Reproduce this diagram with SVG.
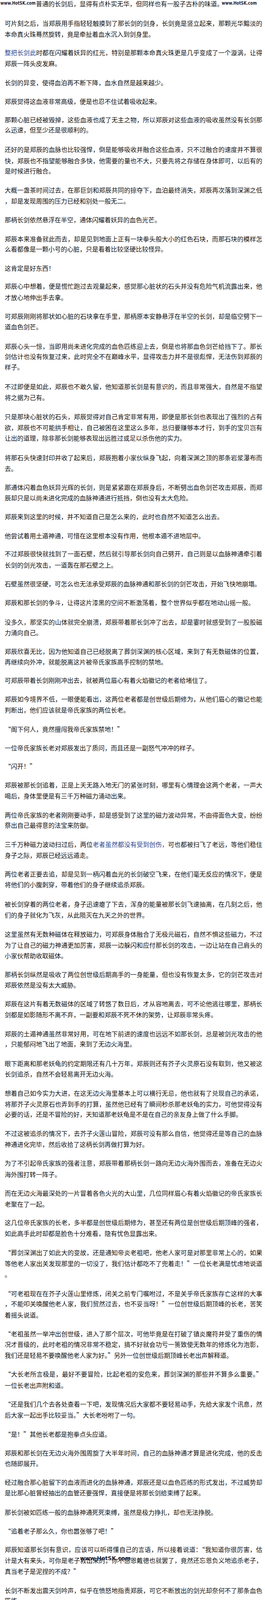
<svg xmlns="http://www.w3.org/2000/svg" width="679" height="4198" viewBox="0 0 679 4198">
<style>
text{font-family:"Noto Sans CJK SC","Noto Sans CJK JP",sans-serif;font-size:16px;fill:#111;font-feature-settings:"fwid" 1;}
.wm{font-family:"DejaVu Sans","Liberation Sans",sans-serif;font-weight:bold;font-size:12px;fill:#1f2433;font-feature-settings:normal;}
.b{fill:#2a438c;}
</style>
<rect x="0" y="0" width="679" height="4198" fill="#ffffff"/>
<g id="body">
<text x="92" y="16">普通的长剑后，显得有点朴实无华，但同样也有一股子古朴的味道。</text>
<text x="12" y="66" textLength="660" lengthAdjust="spacing">可片刻之后，当郑辰用手指轻轻触摸到了那长剑的剑身，长剑竟是竖立起来，那颗光华黯淡的</text>
<text x="12" y="94">本命真火珠蓦然旋转，竟是牵扯着血水沉入到剑身里。</text>
<text x="12" y="141" textLength="660" lengthAdjust="spacing"><tspan class="b">整把长剑此</tspan>时都在闪耀着妖异的红光，特别是那颗本命真火珠更是几乎变成了一个漩涡，让得</text>
<text x="12" y="169">郑辰一阵头皮发麻。</text>
<text x="12" y="218">长剑的异变，使得血泊再不断下降，血水自然是越来越少。</text>
<text x="12" y="266">郑辰觉得这血液非常高级，便是也忍不住试着吸收起来。</text>
<text x="12" y="313" textLength="660" lengthAdjust="spacing">那颗心脏已经被毁掉，这些血液也成了无主之物，所以郑辰对这些血液的吸收虽然没有长剑那</text>
<text x="12" y="339">么迅速，但至少还是很顺利的。</text>
<text x="12" y="389" textLength="660" lengthAdjust="spacing">还好的是郑辰的血脉也比较强悍，倒是能够吸收并融合这些血液，只不过融合的速度并不算很</text>
<text x="12" y="418" textLength="660" lengthAdjust="spacing">快，郑辰也不指望能够融合多快，他需要的量也不大，只要先将之存储在身体即可，以后有的</text>
<text x="12" y="444">是时候进行融合。</text>
<text x="12" y="493" textLength="660" lengthAdjust="spacing">大概一盏茶时间过去，在那巨剑和郑辰共同的掠夺下，血泊最终消失，郑辰再次落到深渊之低</text>
<text x="12" y="521">，却是发现周围的压力已经和别处一般无二。</text>
<text x="12" y="569">那柄长剑依然悬浮在半空，通体闪耀着妖异的血色光芒。</text>
<text x="12" y="618" textLength="660" lengthAdjust="spacing">郑辰本来准备就此而去，却是见到地面上正有一块拳头般大小的红色石块，而那石块的模样怎</text>
<text x="12" y="644">么看都像是一颗小号的心脏，只是看着比较坚硬比较怪异。</text>
<text x="12" y="693">这肯定是好东西！</text>
<text x="12" y="739" textLength="660" lengthAdjust="spacing">郑辰心中想着，便是慌忙跑过去观量起来，感觉那心脏状的石头并没有危险气机流露出来，他</text>
<text x="12" y="768">才放心地伸出手去拿。</text>
<text x="12" y="816" textLength="660" lengthAdjust="spacing">可郑辰刚刚将那状如心脏的石块拿在手里，那柄原本安静悬浮在半空的长剑，却是临空劈下一</text>
<text x="12" y="843">道血色剑芒。</text>
<text x="12" y="893" textLength="660" lengthAdjust="spacing">郑辰心头一惊，当即用尚未进化完成的血色匹练迎上去，倒是也将那血色剑芒给挡下了。那长</text>
<text x="12" y="919" textLength="660" lengthAdjust="spacing">剑估计也没有恢复过来，此时完全不在巅峰水平，显得攻击力并不是很彪悍，无法伤到郑辰的</text>
<text x="12" y="946">样子。</text>
<text x="12" y="996" textLength="660" lengthAdjust="spacing">不过即便是如此，郑辰也不敢久留，他知道那长剑是有意识的，而且非常强大，自然是不指望</text>
<text x="12" y="1024">将之据为己有。</text>
<text x="12" y="1073" textLength="660" lengthAdjust="spacing">只是那块心脏状的石头，郑辰觉得对自己肯定非常有用，即便是那长剑也表现出了强烈的占有</text>
<text x="12" y="1101" textLength="660" lengthAdjust="spacing">欲，郑辰也不可能拱手相让，自己被困在这里这么多年，总归要赚够本才行，到手的宝贝岂有</text>
<text x="12" y="1128">让出的道理，除非那长剑能够表现出远胜过或足以杀伤他的实力。</text>
<text x="12" y="1178" textLength="660" lengthAdjust="spacing">将那石头快速封印并收了起来后，郑辰抱着小家伙纵身飞起，向着深渊之顶的那条岩浆瀑布而</text>
<text x="12" y="1206">去。</text>
<text x="12" y="1254" textLength="660" lengthAdjust="spacing">那通体闪着血色妖异光辉的长剑，则是紧紧跟在郑辰身后，不断劈出血色剑芒攻击郑辰，而郑</text>
<text x="12" y="1281">辰却只是以尚未进化完成的血脉神通进行抵挡，倒也没有太大危险。</text>
<text x="12" y="1329">郑辰来到这里的时候，并不知道自己是怎么来的，此时也自然不知道怎么出去。</text>
<text x="12" y="1378">他尝试着用土遁神通，可惜在这里根本没有作用，他根本遁不进地层中。</text>
<text x="12" y="1424" textLength="660" lengthAdjust="spacing">不过郑辰很快就找到了一面石壁，然后就引导那长剑向自己劈开，自己则是以血脉神通牵引着</text>
<text x="12" y="1453">长剑的剑光攻击，一道轰在那石壁之上。</text>
<text x="12" y="1501">石壁虽然很坚硬，可怎么也无法承受郑辰的血脉神通和那长剑的剑芒攻击，开始飞快地崩塌。</text>
<text x="12" y="1549">郑辰和那长剑的争斗，让得这片漆黑的空间不断激荡着，整个世界似乎都在地动山摇一般。</text>
<text x="12" y="1599" textLength="660" lengthAdjust="spacing">没多久，那坚实的山体就完全崩溃，郑辰带着那长剑冲了出去，却是霎时就感受到了一股股磁</text>
<text x="12" y="1626">力涌向自己。</text>
<text x="12" y="1674" textLength="660" lengthAdjust="spacing">郑辰欣喜无比，因为他知道自己已经脱离了葬剑深渊的核心区域，来到了有无数磁体的位置，</text>
<text x="12" y="1701">再继续向外冲，就能脱离这片被帝氏家族高手控制的禁地。</text>
<text x="12" y="1748">可郑辰带着长剑刚刚冲出去，就被两位眉心有着火焰徽记的老者给堵住了。</text>
<text x="12" y="1796" textLength="660" lengthAdjust="spacing">郑辰如今境界不低，一眼便能看出，这两位老者都是创世级后期修为，从他们眉心的徽记也能</text>
<text x="12" y="1824">判断出，他们应该就是帝氏家族的两位长老。</text>
<text x="12" y="1873">“阁下何人，竟然擅闯我帝氏家族禁地！”</text>
<text x="12" y="1921">一位帝氏家族长老对郑辰发出了质问，而且还是一副怒气冲冲的样子。</text>
<text x="12" y="1968">“闪开！”</text>
<text x="12" y="2016" textLength="660" lengthAdjust="spacing">郑辰被那长剑追着，正是上天无路入地无门的紧张时刻，哪里有心情理会这两个老者，一声大</text>
<text x="12" y="2044">喝后，身体里便是有三千万种磁力涌动出来。</text>
<text x="12" y="2093" textLength="660" lengthAdjust="spacing">两位帝氏家族的老者刚刚要动手，却是感受到了这里的磁力波动异常，不由得面色大变，纷纷</text>
<text x="12" y="2119">祭出自己最得意的法宝来防御。</text>
<text x="12" y="2168" textLength="660" lengthAdjust="spacing">三千万种磁力波动扫过后，两位<tspan class="b">老者虽然都没有受到创伤，</tspan>可也都被扫飞了老远，等他们稳住</text>
<text x="12" y="2196">身子之际，郑辰已经远远遁走。</text>
<text x="12" y="2244" textLength="660" lengthAdjust="spacing">两位老者正要去追，却是见到一柄闪着血光的长剑破空飞来，在他们毫无反应的情况下，便是</text>
<text x="12" y="2271">将他们的小腹刺穿，带着他们的身子继续追杀郑辰。</text>
<text x="12" y="2321" textLength="660" lengthAdjust="spacing">被长剑穿着的两位老者，身子迅速瘪了下去，浑身的能量被那长剑飞速抽离，在几刻之后，他</text>
<text x="12" y="2349">们的身子就化为飞灰，从此陨灭在九天之外的世界。</text>
<text x="12" y="2398" textLength="660" lengthAdjust="spacing">这里虽然有无数种磁体在释放磁力，可郑辰身体融合了无极元磁石，自然不惧这些磁力，不过</text>
<text x="12" y="2426" textLength="660" lengthAdjust="spacing">为了让自己的磁力神通更加厉害，郑辰一边躲闪和应付那长剑的攻击，一边让站在自己肩头的</text>
<text x="12" y="2453">小家伙帮助收取磁体。</text>
<text x="12" y="2501" textLength="660" lengthAdjust="spacing">那柄长剑纵然是吸收了两位创世级后期高手的一身能量，但也没有恢复太多，它的剑芒攻击对</text>
<text x="12" y="2528">郑辰依然是没有太大威胁。</text>
<text x="12" y="2576" textLength="660" lengthAdjust="spacing">郑辰在这片有着无数磁体的区域了转悠了数日后，才从容地离去，可不论他逃往哪里，那柄长</text>
<text x="12" y="2604">剑都是如影随形不离不弃，一副要和郑辰不死不休的架势，让郑辰非常头疼。</text>
<text x="12" y="2653" textLength="660" lengthAdjust="spacing">郑辰的土遁神通虽然非常好用，可在地下前进的速度也远远不如那长剑，总是被剑光攻击的他</text>
<text x="12" y="2679">，只能郁闷地飞出了地面，来到了无边火海里。</text>
<text x="12" y="2729" textLength="660" lengthAdjust="spacing">眼下距离和那老妖龟的约定期限还有几十万年，郑辰则还有芥子火灵原石没有取到，他又被这</text>
<text x="12" y="2756">长剑追杀，自然不会轻易离开无边火海。</text>
<text x="12" y="2805" textLength="660" lengthAdjust="spacing">想着自己如今实力大进，在这无边火海里基本上可以横行无忌，他也就有了兑现自己的承诺，</text>
<text x="12" y="2833" textLength="660" lengthAdjust="spacing">将那芥子火灵原石也弄到手的打算，虽然他已经有了瞬间秒杀那老妖龟的实力，可他觉得没有</text>
<text x="12" y="2859">必要的话，还是不冒险的好，天知道那老妖龟是不是在自己的亲友身上做了什么手脚。</text>
<text x="12" y="2908" textLength="660" lengthAdjust="spacing">不过这被追杀的情况下，去芥子火莲山冒险，郑辰可没有那么自信，他觉得还是等自己的血脉</text>
<text x="12" y="2936">神通进化完毕，然后收拾了这柄长剑再做打算为好。</text>
<text x="12" y="2984" textLength="660" lengthAdjust="spacing">为了不引起帝氏家族的强者注意，郑辰带着那柄长剑一路向无边火海外围而去，准备在无边火</text>
<text x="12" y="3013">海外围打转一阵子。</text>
<text x="12" y="3061" textLength="660" lengthAdjust="spacing">而在无边火海最深处的一片冒着各色火光的大山里，几位同样眉心有着火焰徽记的帝氏家族长</text>
<text x="12" y="3089">老聚在了一起。</text>
<text x="12" y="3136" textLength="660" lengthAdjust="spacing">这几位帝氏家族的长老，多半都是创世级后期修为，甚至还有两位是创世级后期顶峰的强者，</text>
<text x="12" y="3164">如此高手此时却都是脸色十分难看，隐有忧色显露出来。</text>
<text x="12" y="3213" textLength="660" lengthAdjust="spacing">“葬剑深渊出了如此大的变故，还是通知帝炎老祖吧，他老人家可是对那里非常上心的，如果</text>
<text x="12" y="3241" textLength="660" lengthAdjust="spacing">等他老人家出关发现那里的一切没了，我们估计都吃不了兜着走！”一位长老满是忧虑地说道</text>
<text x="12" y="3269">。</text>
<text x="12" y="3318" textLength="660" lengthAdjust="spacing">“可老祖现在在芥子火莲山里修炼，闭关之前专门嘱咐过，不是关乎帝氏家族存亡这样的大事</text>
<text x="12" y="3344" textLength="660" lengthAdjust="spacing">，不能叩关唤醒他老人家，我们贸然过去，也不妥当呀！”一位创世级后期顶峰的长老，苦笑</text>
<text x="12" y="3373">着摇头说道。</text>
<text x="12" y="3421" textLength="660" lengthAdjust="spacing">“老祖虽然一举冲出创世级，进入了那个层次，可他毕竟是在打破了镇炎魔符并受了重伤的情</text>
<text x="12" y="3448" textLength="660" lengthAdjust="spacing">况才晋级的，此时老祖的情况非常不稳定，搞不好就会功亏一篑致使无数年的修炼化为泡影，</text>
<text x="12" y="3476">我们还是轻易不要唤醒他老人家为好。”另外一位创世级后期顶峰长老出声解释道。</text>
<text x="12" y="3524" textLength="660" lengthAdjust="spacing">“大长老所言极是，最好不要冒险，比起老祖的安危来，葬剑深渊的那些并不算多么重要。”</text>
<text x="12" y="3553">一位长老出声附和道。</text>
<text x="12" y="3601" textLength="660" lengthAdjust="spacing">“还是我们几个去各处查看一下吧，发现情况后大家都不要轻易动手，先给大家发个讯息，然</text>
<text x="12" y="3629">后大家一起出手比较妥当。”大长老吩咐了一句。</text>
<text x="12" y="3678">“是！”其他长老都是抱拳点头应道。</text>
<text x="12" y="3726" textLength="660" lengthAdjust="spacing">郑辰和那长剑在无边火海外围周旋了大半年时间，自己的血脉神通才算是进化完成，他的反击</text>
<text x="12" y="3753">也随即展开。</text>
<text x="12" y="3801" textLength="660" lengthAdjust="spacing">经过融合那心脏留下的血液而进化的血脉神通，郑辰还是以血色匹练的形式发出，不过威势却</text>
<text x="12" y="3828">是比那心脏曾经抽出的血管还要强悍，直接便是将那长剑给束缚了起来。</text>
<text x="12" y="3878">那长剑被如匹练一般的血脉神通死死束缚，虽然是极力挣扎，却也无法挣脱。</text>
<text x="12" y="3926">“追着老子那么久，你也嚣张够了吧！”</text>
<text x="12" y="3973" textLength="660" lengthAdjust="spacing">郑辰知道那长剑有意识，应该可以听得懂自己的言语，所以接着说道：“我知道你很厉害，估</text>
<text x="12" y="4001" textLength="660" lengthAdjust="spacing">计是大有来头，可你是老子救出来的，你不感恩戴德也就罢了，竟然还忘恩负义地追杀老子，</text>
<text x="12" y="4029">真当老子是泥捏的不成？”</text>
<text x="12" y="4078" textLength="660" lengthAdjust="spacing">长剑不断发出震天剑吟声，似乎在愤怒地指责郑辰，可它不断放出的剑光却奈何不了那条血色</text>
<text x="12" y="4104">匹练。</text>
<text x="12" y="4153" textLength="660" lengthAdjust="spacing">血脉神通的进步，自然也让郑辰体内的能量更加高级与浑厚，他对着那柄长剑，便是全力释放</text>
<text x="12" y="4181">出了天眼神通。</text>
</g>
<g id="watermarks">
<rect x="0" y="0" width="92" height="17" fill="#ffffff"/>
<text class="wm" x="1" y="12" textLength="90" lengthAdjust="spacingAndGlyphs">www.HotSK.com</text>
<text class="wm" x="568" y="12" textLength="90" lengthAdjust="spacingAndGlyphs">www.HotSK.com</text>
<text class="wm" x="205" y="3994" textLength="130" lengthAdjust="spacingAndGlyphs" style="font-size:14px">www.HotSK.com</text>
<rect x="0" y="4172" width="93" height="26" fill="#ffffff"/>
<text class="wm" x="1" y="4184" textLength="90" lengthAdjust="spacingAndGlyphs">www.HotSK.com</text>
</g>
</svg>
